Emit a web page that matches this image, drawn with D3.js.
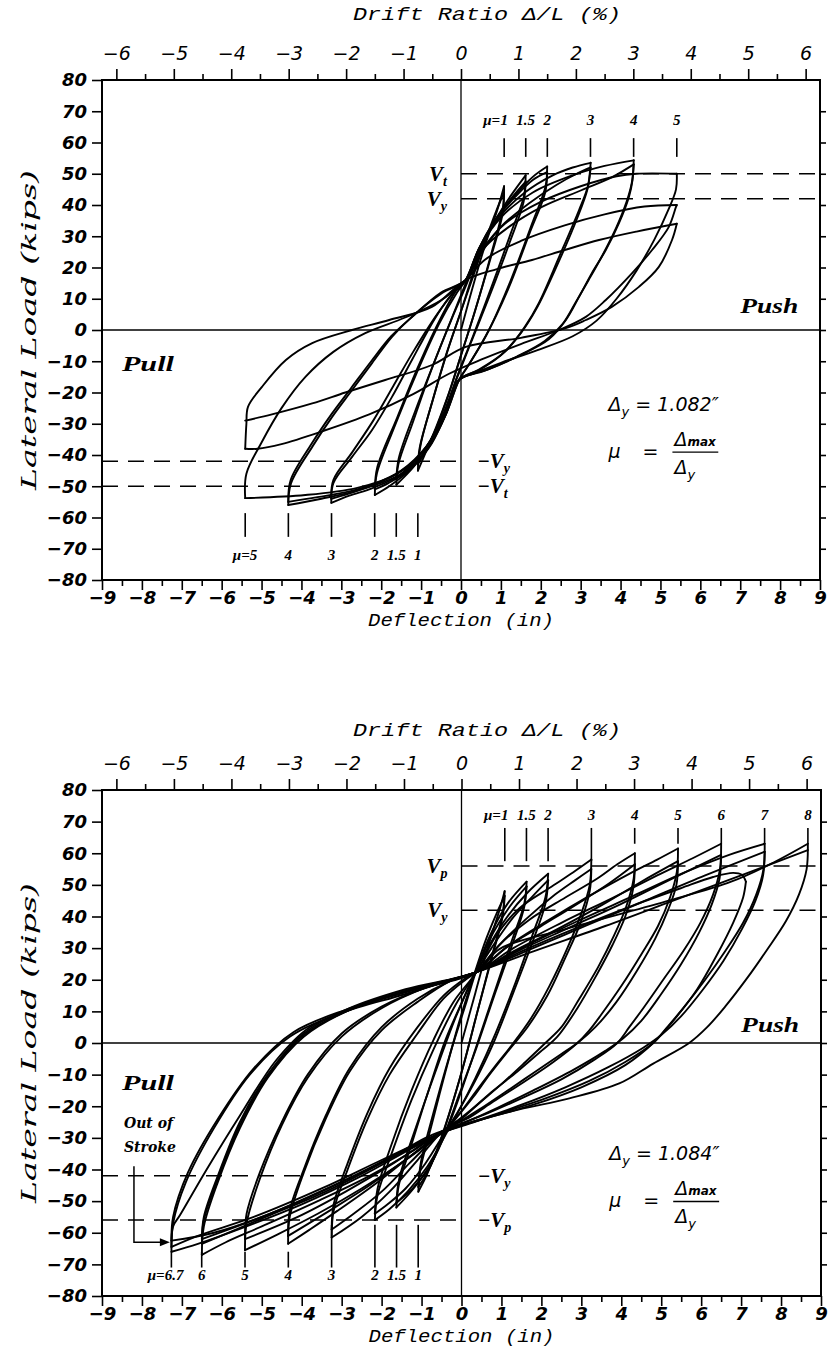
<!DOCTYPE html>
<html>
<head>
<meta charset="utf-8">
<script src="https://cdn.jsdelivr.net/npm/d3@7"></script>
<style>
  body { margin: 0; background: #fff; }
  svg { display: block; }
  .tickB text { font: italic bold 18px "DejaVu Sans"; fill: #000; }
  .tickD text { font: italic 19px "DejaVu Sans"; fill: #000; }
  .tick line { stroke: #000; stroke-width: 1.6; }
  .mono { font: italic 19px "Liberation Mono"; fill: #000; }
  .serifI { font: italic 21px "DejaVu Serif"; fill: #000; }
  .side { font: italic bold 21px "Liberation Serif"; fill: #000; }
  .mu { font: italic bold 15px "Liberation Serif"; fill: #000; }
  .vlab { font: italic bold 21px "Liberation Serif"; fill: #000; }
  .note { font: italic 19px "DejaVu Sans"; fill: #000; }
  .stroke { font: italic bold 14px "DejaVu Serif"; fill: #000; }
</style>
</head>
<body>
<svg id="chart" width="833" height="1361"></svg>
<script>
// ---------- axis ticks ----------
const loadTicks  = [80, 70, 60, 50, 40, 30, 20, 10, 0, -10, -20, -30, -40, -50, -60, -70, -80];
const deflTicks  = [-9, -8, -7, -6, -5, -4, -3, -2, -1, 0, 1, 2, 3, 4, 5, 6, 7, 8, 9];
const deflMinor  = [-8.5, -7.5, -6.5, -5.5, -4.5, -3.5, -2.5, -1.5, -0.5, 0.5, 1.5, 2.5, 3.5, 4.5, 5.5, 6.5, 7.5, 8.5];
const driftTicks = [-6, -5, -4, -3, -2, -1, 0, 1, 2, 3, 4, 5, 6];
const driftMinor = [-5.5, -4.5, -3.5, -2.5, -1.5, -0.5, 0.5, 1.5, 2.5, 3.5, 4.5, 5.5];
const columnHeight = 144; // in, drift ratio = deflection / height

// ---------- specimen 1: half-cycles [deflection (in), load (kips)] ----------
const loopsA = [
  [[0,0],[0.3,14],[0.6,27],[0.9,38],[1.08,46]],
  [[1.08,46],[1.05,39],[0.75,24],[0.35,6],[0.0,-8],[-0.3,-20],[-0.62,-31],[-0.88,-39],[-1.08,-45]],
  [[-1.08,-45],[-1.04,-38],[-0.72,-23],[-0.32,-6],[0.0,6],[0.3,17],[0.62,29],[0.88,38],[1.08,44]],
  [[1.08,44],[1.04,37],[0.72,22],[0.3,4],[-0.02,-9],[-0.32,-21],[-0.64,-32],[-0.9,-39],[-1.08,-43]],
  [[-1.08,-43],[-1.0,-36],[-0.7,-22],[-0.35,-7],[0,6],[0.25,16],[0.55,27],[0.9,36],[1.25,43],[1.62,49.5]],
  [[1.62,49.5],[1.58,43],[1.25,31],[0.8,15],[0.3,-2],[-0.1,-15],[-0.4,-26],[-0.8,-37],[-1.2,-44],[-1.62,-49.5]],
  [[-1.62,-49.5],[-1.57,-43],[-1.22,-30],[-0.75,-13],[-0.25,3],[0.15,15],[0.45,25],[0.85,35],[1.25,42],[1.62,47.5]],
  [[1.62,47.5],[1.57,41],[1.22,28],[0.75,12],[0.25,-4],[-0.12,-16],[-0.45,-27],[-0.85,-37],[-1.25,-43],[-1.62,-47.5]],
  [[-1.62,-47.5],[-1.56,-41],[-1.15,-26],[-0.6,-8],[-0.1,8],[0.15,16],[0.45,26],[0.85,35],[1.35,43],[1.8,49],[2.16,52.3]],
  [[2.16,52.3],[2.12,46],[1.78,34],[1.25,16],[0.7,0],[0.2,-11],[-0.05,-16],[-0.38,-27],[-0.78,-37],[-1.3,-45],[-1.8,-50],[-2.16,-52.8]],
  [[-2.16,-52.8],[-2.11,-46],[-1.7,-32],[-1.12,-14],[-0.55,2],[-0.1,12],[0.12,16],[0.45,26],[0.85,35],[1.35,42.5],[1.8,48],[2.16,50.5]],
  [[2.16,50.5],[2.11,44],[1.72,31],[1.18,13],[0.62,-2],[0.15,-12],[-0.05,-16],[-0.38,-27],[-0.8,-37],[-1.32,-45],[-1.82,-49],[-2.16,-51]],
  [[-2.16,-51],[-2.1,-44],[-1.6,-28],[-1.05,-11],[-0.5,4],[-0.1,13],[0.12,16],[0.45,26],[0.95,36],[1.6,44],[2.3,49.5],[2.8,52],[3.25,53.5]],
  [[3.25,53.5],[3.18,46],[2.96,38.4],[2.46,23.4],[1.95,8.6],[1.6,1],[1.1,-7],[0.5,-12.5],[-0.05,-16],[-0.38,-27],[-0.82,-38],[-1.4,-45.5],[-2.2,-50.5],[-2.8,-53],[-3.25,-55.3]],
  [[-3.25,-55.3],[-3.2,-49],[-2.73,-40.6],[-2.23,-32],[-1.73,-21.4],[-1.23,-9.6],[-0.63,4.2],[-0.2,12],[0.12,16],[0.5,24.5],[1.0,33],[1.7,40.5],[2.4,46.5],[2.9,50],[3.25,52]],
  [[3.25,52],[3.17,45],[2.92,36],[2.42,21],[1.9,7],[1.5,-1],[1.0,-8],[0.4,-13],[-0.05,-16],[-0.4,-27],[-0.85,-37],[-1.5,-45],[-2.3,-50],[-2.85,-52.5],[-3.25,-54]],
  [[-3.25,-54],[-3.2,-48],[-2.72,-39],[-2.2,-29],[-1.7,-18],[-1.2,-7],[-0.6,5],[-0.15,12.5],[0.12,16],[0.5,27],[1.0,36],[1.8,44],[2.8,49.5],[3.6,52.5],[4.33,54.3]],
  [[4.33,54.3],[4.3,48],[4.21,42.6],[3.96,34.2],[3.63,25.6],[3.28,18.2],[2.96,10.6],[2.63,3.2],[2.2,-3],[1.5,-8],[0.7,-12.5],[-0.05,-16],[-0.4,-27],[-0.85,-38],[-1.5,-46],[-2.5,-51],[-3.5,-54],[-4.33,-56]],
  [[-4.33,-56],[-4.26,-49],[-3.73,-37.4],[-3.23,-27.8],[-2.73,-19.2],[-2.23,-10.6],[-1.73,-2.2],[-1.23,4.2],[-0.48,11.8],[0.12,16],[0.53,25.6],[1.2,33],[2.03,39.4],[3.03,44.8],[3.8,49],[4.33,53]],
  [[4.33,53],[4.28,47],[4.15,41],[3.9,33],[3.55,24],[3.2,16],[2.88,9],[2.55,2],[2.1,-3.5],[1.4,-8.5],[0.6,-13],[-0.05,-16],[-0.42,-27],[-0.9,-38],[-1.6,-46],[-2.6,-51],[-3.6,-53.5],[-4.33,-55]],
  [[-4.33,-55],[-4.27,-48],[-3.75,-36.5],[-3.25,-27],[-2.75,-18.5],[-2.25,-10],[-1.75,-2],[-1.2,4.5],[-0.5,12],[0.12,16],[0.55,26],[1.1,34],[2.0,41],[3.0,46],[3.9,49.2],[4.4,50],[5.41,50]],
  [[5.41,50],[5.39,45],[5.2,38.5],[4.85,29],[4.4,19],[3.9,10],[3.4,3],[2.8,-2],[1.9,-6.5],[1.0,-10.5],[0.3,-14],[-0.05,-16],[-0.42,-27],[-0.9,-38],[-1.6,-46],[-2.6,-50.5],[-3.9,-52.8],[-5.41,-53.8]],
  [[-5.41,-53.8],[-5.38,-46],[-5.0,-36],[-4.5,-25],[-3.9,-15],[-3.2,-7],[-2.4,-1],[-1.4,4],[-0.5,9.5],[0.12,16],[0.6,22.5],[1.5,28.5],[2.6,33.5],[3.6,37],[4.6,39.5],[5.41,40]],
  [[5.41,40],[5.39,39.4],[5.21,33],[4.79,25.6],[4.29,18.2],[3.63,9.6],[3.13,4.2],[2.46,0],[1.5,-4.5],[0.5,-9.5],[-0.3,-14],[-1.2,-20.5],[-2.3,-27],[-3.5,-32.5],[-4.5,-36.5],[-5.1,-38],[-5.41,-38]],
  [[-5.41,-38],[-5.38,-30],[-5.34,-24.6],[-4.99,-18.2],[-4.39,-9.6],[-3.73,-4.2],[-2.73,0],[-1.8,3.2],[-0.73,7.4],[0.12,16],[0.9,19.5],[1.78,22.4],[2.6,25.6],[3.46,28.8],[4.4,31.5],[5.41,34]],
  [[5.41,34],[5.29,28.8],[4.96,20.2],[4.46,13.8],[3.78,7.4],[3.13,3.2],[2.63,0.6],[1.5,-2.5],[0.12,-5.4],[-0.73,-11.2],[-1.9,-16],[-2.9,-20],[-3.73,-23.5],[-4.74,-27],[-5.41,-29]]
];

// ---------- specimen 2: half-cycles [deflection (in), load (kips)] ----------
const loopsB = [
  [[0,0],[0.35,16],[0.7,32],[0.95,42],[1.08,48]],
  [[1.08,48],[1.03,41],[0.75,27],[0.4,10],[0.05,-7],[-0.3,-22],[-0.62,-34],[-0.88,-42],[-1.08,-47]],
  [[-1.08,-47],[-1.03,-40],[-0.75,-26],[-0.4,-9],[-0.05,7],[0.3,21],[0.62,33],[0.88,41],[1.08,46.5]],
  [[1.08,46.5],[1.03,40],[0.74,26],[0.38,9],[0.03,-8],[-0.32,-23],[-0.64,-35],[-0.9,-42],[-1.08,-45.5]],
  [[-1.08,-45.5],[-1.02,-38],[-0.7,-22],[-0.3,-4],[0.1,12],[0.4,24],[0.75,35],[1.15,44],[1.63,51]],
  [[1.63,51],[1.57,44],[1.25,32],[0.85,17],[0.4,0],[0,-15],[-0.35,-27],[-0.75,-38],[-1.2,-46],[-1.63,-52]],
  [[-1.63,-52],[-1.57,-45],[-1.25,-32],[-0.85,-16],[-0.4,1],[0.05,14],[0.4,24],[0.8,35],[1.2,43],[1.63,49.5]],
  [[1.63,49.5],[1.57,43],[1.24,30],[0.82,15],[0.36,-2],[-0.05,-16],[-0.4,-28],[-0.8,-39],[-1.22,-46],[-1.63,-50.5]],
  [[-1.63,-50.5],[-1.56,-43],[-1.15,-27],[-0.65,-9],[-0.15,8],[0.3,21],[0.7,31],[1.15,40],[1.65,47.5],[2.17,53.5]],
  [[2.17,53.5],[2.1,46],[1.8,35],[1.35,19],[0.85,3],[0.35,-11],[-0.05,-21],[-0.4,-29],[-0.85,-39],[-1.35,-47],[-1.8,-52.5],[-2.17,-56]],
  [[-2.17,-56],[-2.1,-48],[-1.75,-35],[-1.25,-18],[-0.7,-2],[-0.15,12],[0.3,21],[0.75,30],[1.25,39],[1.75,46],[2.17,51.5]],
  [[2.17,51.5],[2.1,44],[1.78,32],[1.3,16],[0.8,0],[0.3,-13],[-0.1,-22],[-0.45,-29],[-0.9,-38],[-1.4,-46],[-1.85,-51],[-2.17,-54]],
  [[-2.17,-54],[-2.1,-46],[-1.75,-32],[-1.25,-15],[-0.7,1],[-0.2,13],[0.37,22.4],[0.87,34],[1.45,42.6],[2.2,49],[2.8,54],[3.25,58]],
  [[3.25,58],[3.21,50],[3.0,41],[2.65,30],[2.2,18],[1.75,8],[1.3,0],[0.8,-8],[0.35,-15.5],[0,-21.5],[-0.3,-26],[-0.6,-29.5],[-1.1,-37],[-1.8,-47],[-2.5,-55],[-3.25,-61.5]],
  [[-3.25,-61.5],[-3.2,-53],[-2.85,-40],[-2.35,-24],[-1.8,-10],[-1.1,3],[-0.45,14],[0.1,20],[0.37,22.4],[0.95,31],[1.6,39],[2.35,47],[2.85,51.5],[3.25,55]],
  [[3.25,55],[3.21,48],[2.98,38],[2.6,27],[2.15,15],[1.65,5],[1.2,-2],[0.7,-10],[0.3,-17],[-0.05,-22.5],[-0.35,-27],[-0.7,-30.5],[-1.3,-38],[-2.0,-47],[-2.7,-54],[-3.25,-59]],
  [[-3.25,-59],[-3.2,-51],[-2.85,-38],[-2.35,-22],[-1.8,-8],[-1.1,5],[-0.45,15],[0.1,20.5],[0.37,22.4],[0.95,31],[1.7,39],[2.6,46],[3.4,52],[3.9,56.5],[4.34,60]],
  [[4.34,60],[4.31,52],[4.12,43],[3.82,34],[3.42,24],[2.95,14],[2.5,5],[2.1,0],[1.6,-6],[1.0,-13],[0.4,-19.5],[-0.05,-24.5],[-0.45,-28],[-1.2,-35],[-2.1,-44],[-3.1,-53],[-3.8,-59],[-4.34,-63.5]],
  [[-4.34,-63.5],[-4.3,-55],[-3.95,-41],[-3.4,-24],[-2.8,-9],[-2.0,4],[-1.1,13],[-0.3,19.5],[0.37,22.4],[1.1,30],[2.0,37],[2.9,44],[3.7,50.5],[4.34,56.5]],
  [[4.34,56.5],[4.3,49],[4.1,40],[3.78,31],[3.36,21],[2.9,11],[2.4,2],[2.0,-2.5],[1.4,-9],[0.8,-15],[0.25,-21],[-0.15,-25],[-0.55,-28.5],[-1.3,-36],[-2.3,-45],[-3.3,-53],[-4.34,-61]],
  [[-4.34,-61],[-4.3,-53],[-3.95,-40],[-3.4,-23],[-2.8,-8],[-2.0,5],[-1.1,14],[-0.3,19.5],[0.37,22.4],[1.2,31],[2.2,39],[3.2,46.5],[4.2,53.5],[4.9,58],[5.42,61.5]],
  [[5.42,61.5],[5.39,54],[5.22,46],[4.92,37],[4.5,28],[4.0,18],[3.5,9],[3.2,4],[2.9,0],[2.3,-6],[1.6,-12],[0.8,-18.5],[0.2,-23.5],[-0.2,-26],[-0.6,-29.5],[-1.4,-37],[-2.5,-46],[-3.6,-54],[-4.6,-60.5],[-5.42,-65.5]],
  [[-5.42,-65.5],[-5.38,-57],[-5.05,-43],[-4.5,-26],[-3.85,-11],[-3.0,2],[-2.0,11],[-0.9,17.5],[0.37,22.4],[1.3,29],[2.4,36],[3.5,43.5],[4.5,51],[5.42,57.5]],
  [[5.42,57.5],[5.38,50],[5.17,42],[4.85,33],[4.4,23],[3.88,13],[3.35,5],[2.95,0.5],[2.5,-3.5],[1.8,-9.5],[1.1,-15.5],[0.45,-21],[0,-24.5],[-0.35,-27],[-0.75,-30],[-1.7,-38],[-2.9,-47],[-4.1,-55],[-5.42,-62]],
  [[-5.42,-62],[-5.38,-54],[-5.05,-41],[-4.5,-25],[-3.85,-10],[-3.0,3],[-2.0,11.5],[-0.9,17.5],[0.37,22.4],[1.3,30],[2.5,38],[3.8,46],[4.9,53],[5.8,58.5],[6.5,63]],
  [[6.5,63],[6.47,55],[6.3,47],[5.98,38],[5.55,29],[5.05,20],[4.55,11],[4.2,5],[3.9,0],[3.3,-5.5],[2.5,-11.5],[1.5,-17.5],[0.6,-22.5],[0,-25.5],[-0.5,-28],[-1.2,-34],[-2.3,-42],[-3.6,-50],[-5.0,-58],[-5.9,-63],[-6.5,-67]],
  [[-6.5,-67],[-6.45,-58],[-6.1,-44],[-5.55,-27],[-4.85,-11],[-3.95,2],[-2.8,10.5],[-1.4,16.5],[0.37,22.4],[1.4,29],[2.7,36.5],[4.0,44],[5.2,51.5],[6.5,59.5]],
  [[6.5,59.5],[6.46,52],[6.27,44],[5.95,35],[5.5,25],[5.0,15.5],[4.5,7],[4.05,1.5],[3.6,-2.5],[2.8,-8.5],[1.8,-15],[0.9,-20.5],[0.2,-24.5],[-0.3,-27],[-0.9,-30],[-2.0,-38],[-3.4,-47],[-4.9,-55],[-6.5,-63.5]],
  [[-6.5,-63.5],[-6.45,-56],[-6.1,-43],[-5.55,-26],[-4.85,-10.5],[-3.95,2.5],[-2.8,10.5],[-1.4,16.5],[0.37,22.4],[1.5,29],[2.9,36.5],[4.3,43.5],[5.5,49],[6.3,52.5],[6.8,53.8],[7.02,53.2],[7.12,51]],
  [[7.12,51],[7.05,46],[6.8,38],[6.4,28],[5.9,17],[5.3,7],[4.8,0],[4.1,-7],[3.0,-14],[1.8,-19.5],[0.7,-23.5],[0,-26],[-0.6,-29],[-1.7,-36],[-3.2,-45],[-4.8,-54],[-6.5,-62]],
  [[-6.5,-62],[-6.45,-55],[-6.1,-42],[-5.55,-25],[-4.85,-10],[-3.95,3],[-2.8,11],[-1.4,17],[0.37,22.4],[1.5,30],[2.9,38.5],[4.3,46.5],[5.6,54],[6.7,59.5],[7.59,63]],
  [[7.59,63],[7.56,55],[7.38,47],[7.05,38],[6.6,29],[6.1,20],[5.55,11],[5.15,5],[4.8,0],[4.1,-6],[3.2,-12],[2.0,-18],[0.9,-22.5],[0.2,-25.5],[-0.4,-28],[-1.2,-33],[-2.5,-42],[-4.0,-51],[-5.6,-59],[-6.6,-63.5],[-7.26,-66]],
  [[-7.26,-66],[-7.22,-58],[-7.05,-54.5],[-6.38,-40],[-5.55,-23],[-4.63,-5.3],[-3.8,5],[-2.63,11.3],[-0.98,17.6],[0.37,22.4],[1.6,29],[3.1,37],[4.6,45],[6.1,53],[7.59,60.5]],
  [[7.59,60.5],[7.55,53],[7.36,45],[7.02,36],[6.56,26],[6.05,17],[5.5,8.5],[5.0,2.5],[4.55,-1.5],[3.7,-7.5],[2.6,-14],[1.4,-20],[0.5,-24],[0,-26],[-0.6,-29],[-1.6,-35],[-3.0,-44],[-4.6,-53],[-6.2,-60],[-7.26,-62.5]],
  [[-7.26,-62.5],[-7.22,-55],[-6.85,-41],[-6.1,-24],[-5.2,-8],[-4.2,3.5],[-2.9,10.5],[-1.3,16.5],[0.37,22.4],[0.95,29.7],[2.6,36],[5.1,44.7],[6.75,51],[7.8,57],[8.67,63]],
  [[8.67,63],[8.64,55],[8.45,47],[8.12,38.5],[7.65,29.5],[7.15,20.5],[6.6,11.5],[6.15,5],[5.7,0],[4.8,-6.5],[3.95,-12.8],[2.7,-17.5],[1.45,-21],[0.4,-24.5],[-0.2,-27],[-0.8,-30],[-2.0,-37],[-3.5,-46],[-5.2,-55],[-6.6,-61],[-7.26,-64.5]],
  [[-7.26,-64.5],[-7.22,-57],[-6.9,-44],[-6.2,-27],[-5.3,-10],[-4.3,2],[-3.0,9.5],[-1.4,15.5],[0.37,22.4],[1.8,29],[3.6,37],[5.4,45.5],[7.1,53.5],[8.67,61]]
];

// ---------- ductility markers ----------
const muPushA = [1, 1.5, 2, 3, 4, 5];
const muPullA = [1, 1.5, 2, 3, 4, 5];
const muPushB = [1, 1.5, 2, 3, 4, 5, 6, 7, 8];
const muPullB = [1, 1.5, 2, 3, 4, 5, 6, 6.7];
const yieldDispA = 1.082;
const yieldDispB = 1.084;

// ---------- reference load levels (kips) ----------
const levelsA = [
  { v: 50, label: "V", sub: "t", side: "push" },
  { v: 42, label: "V", sub: "y", side: "push" },
  { v: -42, label: "\u2212V", sub: "y", side: "pull" },
  { v: -50, label: "\u2212V", sub: "t", side: "pull" }
];
const levelsB = [
  { v: 56, label: "V", sub: "p", side: "push" },
  { v: 42, label: "V", sub: "y", side: "push" },
  { v: -42, label: "\u2212V", sub: "y", side: "pull" },
  { v: -56, label: "\u2212V", sub: "p", side: "pull" }
];

const svg = d3.select("#chart");
const fmt = v => (v < 0 ? "\u2212" + Math.abs(v) : String(v));

function drawPanel(cfg) {
  const x = d3.scaleLinear().domain([-9, 9]).range([cfg.left, cfg.right]);
  const y = d3.scaleLinear().domain([-80, 80]).range([cfg.bottom, cfg.top]);
  const xd = d3.scaleLinear()
    .domain([-9 / columnHeight * 100, 9 / columnHeight * 100])
    .range([cfg.left, cfg.right]);
  const g = svg.append("g");

  // left load axis
  g.append("g").attr("class", "tickB").attr("transform", `translate(${cfg.left},0)`)
    .call(d3.axisLeft(y).tickValues(loadTicks).tickSize(10).tickSizeOuter(0).tickPadding(5).tickFormat(fmt))
    .call(a => a.select(".domain").remove());
  // right side ticks
  g.append("g").attr("transform", `translate(${cfg.right},0)`)
    .call(d3.axisRight(y).tickValues(loadTicks.slice(1, -1)).tickSize(6).tickFormat(""))
    .call(a => a.select(".domain").remove());
  // deflection axis
  g.append("g").attr("class", "tickB").attr("transform", `translate(0,${cfg.bottom})`)
    .call(d3.axisBottom(x).tickValues(deflTicks).tickSize(10).tickPadding(1).tickFormat(fmt))
    .call(a => a.select(".domain").remove());
  g.append("g").attr("transform", `translate(0,${cfg.bottom})`)
    .call(d3.axisBottom(x).tickValues(deflMinor).tickSize(6).tickFormat(""))
    .call(a => a.select(".domain").remove());
  // drift ratio axis
  g.append("g").attr("class", "tickD").attr("transform", `translate(0,${cfg.top})`)
    .call(d3.axisTop(xd).tickValues(driftTicks).tickSize(11).tickPadding(9).tickFormat(fmt))
    .call(a => a.select(".domain").remove());
  g.append("g").attr("transform", `translate(0,${cfg.top})`)
    .call(d3.axisTop(xd).tickValues(driftMinor).tickSize(6).tickFormat(""))
    .call(a => a.select(".domain").remove());

  // frame and zero lines
  g.append("rect").attr("x", x(-9)).attr("y", y(80))
    .attr("width", x(9) - x(-9)).attr("height", y(-80) - y(80))
    .attr("fill", "none").attr("stroke", "#000").attr("stroke-width", 2);
  g.append("line").attr("x1", x(-9)).attr("x2", x(9)).attr("y1", y(0)).attr("y2", y(0))
    .attr("stroke", "#000").attr("stroke-width", 1.3);
  g.append("line").attr("x1", x(0)).attr("x2", x(0)).attr("y1", y(80)).attr("y2", y(-80))
    .attr("stroke", "#000").attr("stroke-width", 1.3);

  // titles
  g.append("text").attr("class", "mono").attr("text-anchor", "middle")
    .attr("x", cfg.driftTitleX).attr("y", cfg.top - cfg.driftTitleGap)
    .attr("textLength", 268).attr("lengthAdjust", "spacingAndGlyphs")
    .text("Drift Ratio  \u0394/L (%)");
  g.append("text").attr("class", "mono").attr("text-anchor", "middle")
    .attr("x", x(0)).attr("y", cfg.bottom + 46)
    .attr("textLength", 186).attr("lengthAdjust", "spacingAndGlyphs")
    .text("Deflection (in)");
  g.append("text").attr("class", "serifI").attr("text-anchor", "middle")
    .attr("transform", `translate(36,${y(0)}) rotate(-90)`)
    .attr("textLength", 320).attr("lengthAdjust", "spacingAndGlyphs")
    .text("Lateral Load (kips)");

  // reference load levels
  cfg.levels.forEach(l => {
    const x1 = l.side === "push" ? x(0) : x(-9);
    const x2 = l.side === "push" ? x(9) : x(0);
    g.append("line").attr("x1", x1).attr("x2", x2).attr("y1", y(l.v)).attr("y2", y(l.v))
      .attr("stroke", "#000").attr("stroke-width", 1.5).attr("stroke-dasharray", "16,10");
    const t = g.append("text").attr("class", "vlab")
      .attr("text-anchor", l.side === "push" ? "end" : "start")
      .attr("x", l.side === "push" ? x(0) - 14 : x(0) + 16)
      .attr("y", y(l.v) + 7);
    t.append("tspan").text(l.label);
    t.append("tspan").attr("dy", 5).attr("font-size", 14).text(l.sub);
  });

  // hysteresis curves
  const line = d3.line().x(d => x(d[0])).y(d => y(d[1])).curve(d3.curveCatmullRom.alpha(0.5));
  g.append("g").selectAll("path").data(cfg.loops).join("path")
    .attr("d", line).attr("fill", "none").attr("stroke", "#000")
    .attr("stroke-width", 1.9).attr("stroke-linejoin", "round").attr("stroke-linecap", "round");

  // ductility markers
  const mk = g.append("g");
  cfg.muPush.forEach((m, i) => {
    const px = x(m * cfg.dy);
    mk.append("line").attr("x1", px).attr("x2", px)
      .attr("y1", y(cfg.pushMark[0])).attr("y2", y(m > 3 && cfg.shortFrom ? cfg.pushMark[2] : cfg.pushMark[1]))
      .attr("stroke", "#000").attr("stroke-width", 1.6);
    mk.append("text").attr("class", "mu").attr("text-anchor", "middle")
      .attr("x", px).attr("y", y(cfg.pushLabel)).text(m);
    if (i === 0) mk.append("text").attr("class", "mu").attr("text-anchor", "end")
      .attr("x", px - 4).attr("y", y(cfg.pushLabel)).text("\u03bc=");
  });
  cfg.muPull.forEach((m, i) => {
    const px = x(-m * cfg.dy);
    const top = m > 3 && cfg.shortFrom ? cfg.pullMark[2] : cfg.pullMark[0];
    mk.append("line").attr("x1", px).attr("x2", px)
      .attr("y1", y(top)).attr("y2", y(cfg.pullMark[1]))
      .attr("stroke", "#000").attr("stroke-width", 1.6);
    const last = i === cfg.muPull.length - 1;
    mk.append("text").attr("class", "mu").attr("text-anchor", last ? "end" : "middle")
      .attr("x", last ? px + 12 : px).attr("y", y(cfg.pullLabel)).text(last ? "\u03bc=" + m : m);
  });

  // side labels
  g.append("text").attr("class", "side").attr("x", x(7.0)).attr("y", y(cfg.pushY))
    .attr("textLength", 58).attr("lengthAdjust", "spacingAndGlyphs").text("Push");
  g.append("text").attr("class", "side").attr("x", x(-8.5)).attr("y", y(cfg.pullY))
    .attr("textLength", 52).attr("lengthAdjust", "spacingAndGlyphs").text("Pull");

  // yield displacement and ductility definition
  const n = g.append("text").attr("class", "note").attr("x", x(3.7)).attr("y", y(cfg.noteY));
  n.append("tspan").text("\u0394");
  n.append("tspan").attr("dy", 5).attr("font-size", 13).text("y");
  n.append("tspan").attr("dy", -5).text(" =  " + cfg.dy.toFixed(3) + "\u2033");
  const my = y(cfg.noteY - 15);
  g.append("text").attr("class", "note").attr("x", x(3.7)).attr("y", my).text("\u03bc");
  g.append("text").attr("class", "note").attr("x", x(4.55)).attr("y", my).text("=");
  g.append("line").attr("x1", x(5.3)).attr("x2", x(6.45)).attr("y1", my - 6).attr("y2", my - 6)
    .attr("stroke", "#000").attr("stroke-width", 1.4);
  const num = g.append("text").attr("class", "note").attr("x", x(5.35)).attr("y", my - 12);
  num.append("tspan").text("\u0394");
  num.append("tspan").attr("font-size", 12).attr("font-weight", "bold").text("max");
  const den = g.append("text").attr("class", "note").attr("x", x(5.35)).attr("y", my + 16);
  den.append("tspan").text("\u0394");
  den.append("tspan").attr("dy", 5).attr("font-size", 13).text("y");

  return { g, x, y };
}

// upper panel: specimen with 1.082 in yield displacement
drawPanel({
  left: 102, right: 820, top: 80, bottom: 580, driftTitleX: 487, driftTitleGap: 60,
  loops: loopsA, levels: levelsA, muPush: muPushA, muPull: muPullA, dy: yieldDispA,
  pushMark: [61.4, 55.4], pushLabel: 65.5, pullMark: [-58.6, -66.2], pullLabel: -73.5,
  shortFrom: false, pushY: 5.5, pullY: -13, noteY: -26
});

// lower panel: specimen with 1.084 in yield displacement
const pB = drawPanel({
  left: 102, right: 821, top: 790, bottom: 1296, driftTitleX: 487, driftTitleGap: 54,
  loops: loopsB, levels: levelsB, muPush: muPushB, muPull: muPullB, dy: yieldDispB,
  pushMark: [68, 57.5, 63], pushLabel: 70.5, pullMark: [-57.5, -71, -66], pullLabel: -75,
  shortFrom: true, pushY: 3.5, pullY: -15, noteY: -37
});

// out-of-stroke note on the lower panel
const sx = pB.x, sy = pB.y;
pB.g.append("text").attr("class", "stroke").attr("x", sx(-8.45)).attr("y", sy(-27)).text("Out of");
pB.g.append("text").attr("class", "stroke").attr("x", sx(-8.45)).attr("y", sy(-34.5)).text("Stroke");
pB.g.append("path")
  .attr("d", `M${sx(-8.2)},${sy(-39)} L${sx(-8.2)},${sy(-63)} L${sx(-7.5)},${sy(-63)}`)
  .attr("fill", "none").attr("stroke", "#000").attr("stroke-width", 1.5);
pB.g.append("path")
  .attr("d", `M${sx(-7.3)},${sy(-63)} l-10,-4 l0,8 z`)
  .attr("fill", "#000");
</script>
</body>
</html>
